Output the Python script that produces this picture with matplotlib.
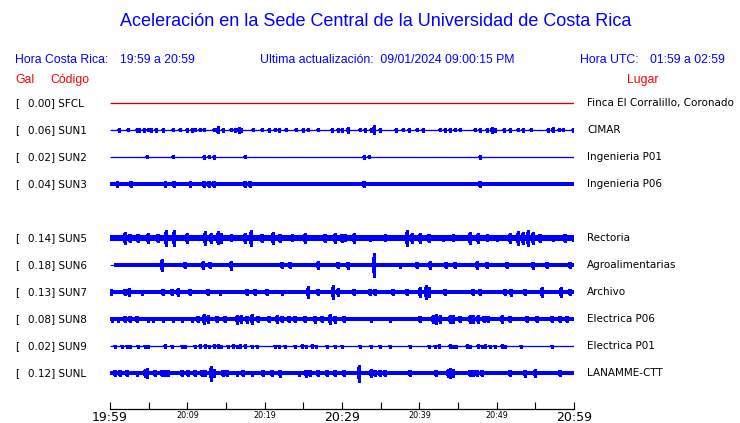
import matplotlib
matplotlib.use("Agg")
import matplotlib.pyplot as plt

W, H = 740, 423
ROW = 27  # pixels between traces

# station table
codes = ["SFCL", "SUN1", "SUN2", "SUN3", "", "SUN5", "SUN6", "SUN7", "SUN8", "SUN9", "SUNL"]
gal = [0.00, 0.06, 0.02, 0.04, None, 0.14, 0.18, 0.13, 0.08, 0.02, 0.12]
places = ["Finca El Corralillo, Coronado", "CIMAR", "Ingenieria P01", "Ingenieria P06", "",
          "Rectoria", "Agroalimentarias", "Archivo", "Electrica P06", "Electrica P01", "LANAMME-CTT"]
# half width of the background noise band (px), 0 = thin line
base = [0, 0, 0, 1.8, None, 2.8, 1.9, 1.9, 1.9, 0, 1.9]
band_start = [0, 0, 0, 0, None, 0, 0.5, 0, 0, 0, 0]

# events: (minutes after 19:59, half amplitude px)
SFCL_EV = []
SUN1_EV = [(1.2, 2), (2.3, 1.5), (3.45, 2), (3.8, 2), (4.4, 2), (4.9, 1.5), (5.3, 2), (5.9, 2),
           (6.9, 2), (8.2, 1.5), (9.05, 1.5), (10.0, 2), (10.6, 2), (11.0, 1.5), (11.6, 1.5),
           (12.1, 1.5), (13.4, 1.5), (13.8, 2), (14.0, 3.5), (14.65, 2), (15.65, 1.5), (16.2, 2),
           (16.7, 3), (17.0, 2), (18.5, 1.5), (19.6, 1.5), (20.5, 2), (21.3, 1.5), (21.8, 2),
           (22.8, 1.5), (24.1, 1.5), (25.0, 2), (25.6, 1.5), (26.9, 1.5), (28.7, 2), (29.5, 2),
           (30.0, 2), (30.8, 3), (32.3, 1.5), (32.97, 2), (33.8, 2), (34.2, 4.5), (34.9, 2),
           (37.0, 2), (37.9, 1.5), (38.6, 2), (39.7, 1.5), (40.5, 2), (42.7, 1.5), (43.3, 2),
           (44.0, 2), (44.6, 1.5), (45.3, 1.5), (47.2, 1.5), (47.8, 2), (48.7, 2), (49.4, 3),
           (49.8, 2), (50.9, 2), (51.7, 2), (52.8, 1.5), (53.4, 2), (54.5, 1.5), (56.7, 2),
           (57.3, 2.5), (58.0, 1.5), (58.6, 1.5), (59.9, 2)]
SUN2_EV = [(4.83, 1.5), (8.19, 1.5), (12.2, 2), (12.8, 1.5), (13.4, 2), (17.4, 1.5),
           (32.8, 2), (33.5, 1.5), (47.8, 2)]
SUN3_EV = [(0.95, 2.8), (2.67, 3.2), (7.1, 2.8), (8.3, 3.2), (10.3, 2.8), (12.2, 3.2),
           (12.85, 3.2), (13.5, 3), (17.4, 3.2), (18.1, 3), (32.8, 3), (47.9, 3.2)]
EMPTY_EV = []
SUN5_EV = [(1.94, 5.7), (2.59, 4), (3.66, 4), (4.96, 5), (6.25, 4), (7.24, 8.3), (8.32, 8),
           (9.91, 5), (12.3, 7), (13.06, 5), (14.0, 6.5), (14.4, 5), (15.7, 3.5), (17.5, 5),
           (18.2, 8), (19.6, 4), (21.1, 6), (22.0, 4), (23.5, 3.5), (25.2, 5), (27.8, 4),
           (29.1, 5), (30.0, 4), (30.4, 3.5), (31.5, 5), (33.6, 3), (35.6, 3.5), (38.4, 8),
           (39.0, 5), (40.1, 5), (41.2, 4), (43.1, 3), (44.4, 3.5), (46.6, 6), (47.6, 5),
           (48.7, 3.5), (50.0, 3), (51.7, 5), (52.8, 7), (53.4, 6), (54.1, 8), (54.7, 6),
           (55.6, 4), (57.3, 3), (58.8, 4), (59.9, 3)]
SUN6_EV = [(6.68, 6.3), (9.7, 3), (12.07, 4), (12.9, 3), (15.7, 4.5), (22.2, 3), (23.3, 3),
           (26.9, 4), (29.5, 3), (30.8, 3.5), (34.2, 11.7), (37.5, 2.5), (39.7, 3), (41.4, 4),
           (43.5, 3), (44.6, 3), (47.4, 4), (48.7, 3), (51.3, 3), (54.7, 3.5), (56.5, 3),
           (59.5, 3)]
SUN7_EV = [(0.13, 3), (1.94, 3), (2.5, 4), (4.1, 2.5), (6.9, 3), (7.97, 3), (8.75, 4),
           (10.3, 3), (12.7, 3), (14.2, 2.5), (17.7, 3), (18.75, 3), (20.3, 3), (22.2, 2.5),
           (25.6, 5.8), (26.9, 3), (28.9, 6.7), (29.5, 4), (31.5, 3), (33.6, 3), (34.3, 3),
           (36.6, 3), (38.4, 3), (40.1, 5), (40.9, 7.3), (41.2, 5), (43.3, 3), (47.0, 3),
           (47.8, 3), (51.1, 3), (51.9, 3.5), (53.7, 3), (55.8, 5), (58.3, 5), (59.5, 3)]
SUN8_EV = [(0.22, 2.5), (1.08, 2.5), (1.94, 3), (2.59, 3), (3.45, 3), (4.96, 2.5), (5.6, 2.5),
           (6.9, 2.5), (8.19, 2.5), (9.27, 2.5), (10.56, 2.5), (11.4, 3), (12.2, 5), (12.7, 4),
           (13.8, 3), (14.9, 3), (16.4, 4.5), (17.0, 4), (17.7, 3.5), (18.3, 5), (19.2, 3),
           (20.5, 3), (21.6, 4), (22.2, 3), (23.1, 3), (23.9, 3), (25.2, 3), (26.5, 3.5),
           (27.4, 3), (28.4, 5), (29.1, 3.5), (30.2, 3), (33.8, 2.5), (36.2, 2.5), (40.1, 3),
           (41.8, 4), (42.2, 5), (42.7, 4), (44.0, 4), (44.4, 4), (45.3, 3), (46.6, 4),
           (47.0, 4), (47.6, 4), (48.3, 3), (48.9, 3), (50.7, 4), (51.7, 3), (53.9, 3),
           (55.2, 3), (57.1, 3), (58.2, 3), (59.1, 3)]
SUN9_EV = [(0.65, 1.5), (1.51, 1.5), (2.16, 1.5), (2.59, 1.5), (3.66, 1.5), (4.53, 1.5),
           (4.96, 1.5), (7.11, 2), (7.97, 1.5), (9.27, 1.5), (9.7, 1.5), (11.0, 1.5), (11.6, 2),
           (12.3, 2), (12.8, 1.5), (13.4, 2), (14.0, 2), (14.4, 1.5), (15.3, 1.5), (15.9, 2),
           (16.4, 1.5), (16.8, 2), (17.5, 2), (18.3, 1.5), (19.0, 1.5), (21.3, 1.5), (21.8, 1.5),
           (22.6, 1.5), (23.9, 1.5), (24.8, 2), (25.4, 1.5), (26.1, 2), (26.7, 1.5), (28.0, 1.5),
           (29.1, 1.5), (30.0, 1.5), (32.3, 1.5), (33.8, 1.5), (34.9, 1.5), (36.2, 1.5),
           (38.8, 1.5), (41.2, 1.5), (42.0, 1.5), (42.5, 2), (44.0, 2), (44.4, 1.5), (44.8, 1.5),
           (46.1, 2), (46.6, 1.5), (47.6, 2), (48.1, 1.5), (48.5, 2), (49.1, 1.5), (49.8, 1.5),
           (50.7, 2), (51.1, 1.5), (53.2, 1.5), (57.1, 1.5)]
SUNL_EV = [(0.65, 3), (1.29, 3), (2.16, 3), (3.45, 2.5), (4.53, 4), (4.74, 5), (5.82, 3),
           (6.68, 3), (7.11, 3), (7.54, 3), (9.27, 3), (10.1, 3), (11.0, 3), (11.85, 3),
           (12.3, 3), (13.06, 7.5), (13.4, 4), (14.65, 3), (15.1, 3), (16.4, 2.5), (17.2, 3),
           (18.3, 2.5), (19.8, 3), (20.9, 3), (22.0, 3.5), (24.4, 2.5), (25.4, 3.5), (25.8, 3),
           (26.9, 3), (28.0, 3), (29.1, 3), (30.2, 3), (32.2, 8.5), (33.8, 4), (34.3, 3),
           (34.9, 3), (35.6, 3), (38.8, 3), (42.2, 3), (43.7, 4), (44.0, 5), (44.4, 4),
           (46.6, 3), (47.0, 3), (47.4, 3), (48.1, 3), (51.7, 3), (53.6, 3.5), (54.9, 4),
           (58.2, 3)]
events = [SFCL_EV, SUN1_EV, SUN2_EV, SUN3_EV, EMPTY_EV, SUN5_EV, SUN6_EV, SUN7_EV,
          SUN8_EV, SUN9_EV, SUNL_EV]

tick_minutes = list(range(0, 61, 5))
tick_labels = ["19:59", "", "20:09", "", "20:19", "", "20:29", "", "20:39", "", "20:49", "", "20:59"]
big_labels = ["19:59", "20:29", "20:59"]

BLUE = "#0000ff"
RED = "#ff0000"
SANS = "Liberation Sans"


def fx(x):
    return x / W


def fy(y):
    return 1 - y / H


fig = plt.figure(figsize=(W / 100, H / 100), dpi=100)

# traces
x0, x1 = 110, 574
top, bot = 103 - ROW / 2, 103 + 10.5 * ROW
ax = fig.add_axes([fx(x0), fy(bot), fx(x1) - fx(x0), (bot - top) / H])
ax.set_xlim(0, 60)
ax.set_ylim(10.5 * ROW, -0.5 * ROW)
ax.axis("off")

for i, code in enumerate(codes):
    if not code:
        continue
    c = i * ROW
    colour = "#d00000" if code == "SFCL" else BLUE
    if base[i] > 0:
        ax.fill_between([band_start[i], 60], c - base[i], c + base[i], color=colour, lw=0)
        if band_start[i] > 0:
            ax.hlines(c, 0, band_start[i], color=colour, lw=0.8)
    else:
        ax.hlines(c, 0, 60, color=colour, lw=0.95)
    if events[i]:
        ts = [e[0] for e in events[i]]
        amps = [e[1] for e in events[i]]
        ax.vlines(ts, [c - a for a in amps], [c + a for a in amps], color=colour,
                  lw=0.8, capstyle="butt", antialiased=False)
        b = max(base[i], 0.5)
        mid = [b + 0.6 * (a - b) for a in amps]
        ax.vlines(ts, [c - m for m in mid], [c + m for m in mid], color=colour,
                  lw=1.7, capstyle="butt", antialiased=False)

    y = fy(103 + i * ROW)
    fig.text(fx(15), y, "[", fontsize=7.5, color="black", va="center", family="DejaVu Sans")
    fig.text(fx(27.5), y, "%.2f] %s" % (gal[i], code), fontsize=7.5, color="black",
             va="center", family="DejaVu Sans")
    fig.text(fx(587), y, places[i], fontsize=7.5, color="black", va="center",
             family="DejaVu Sans")

# time axis
tax = fig.add_axes([fx(x0), fy(409), fx(x1) - fx(x0), 0.02])
tax.set_xlim(0, 60)
tax.set_yticks([])
for s in ["top", "left", "right"]:
    tax.spines[s].set_visible(False)
tax.spines["bottom"].set_linewidth(0.9)
tax.patch.set_alpha(0)
tax.set_xticks(tick_minutes)
tax.set_xticklabels(tick_labels)
tax.tick_params(axis="x", direction="in", length=5.2, width=0.8, pad=1.5)
for lab in tax.get_xticklabels():
    lab.set_fontsize(9 if lab.get_text() in big_labels else 5.8)
    lab.set_family("DejaVu Sans")

# header
fig.text(fx(376), fy(22), "Aceleración en la Sede Central de la Universidad de Costa Rica",
         fontsize=13, color=BLUE, ha="center", va="center", family=SANS)
fig.text(fx(15), fy(60), "Hora Costa Rica:", fontsize=8.8, color=BLUE, va="center", family=SANS)
fig.text(fx(120), fy(60), "19:59 a 20:59", fontsize=8.8, color=BLUE, va="center", family=SANS)
fig.text(fx(260), fy(60), "Ultima actualización:  09/01/2024 09:00:15 PM", fontsize=8.8,
         color=BLUE, va="center", family=SANS)
fig.text(fx(580), fy(60), "Hora UTC:", fontsize=8.8, color=BLUE, va="center", family=SANS)
fig.text(fx(650), fy(60), "01:59 a 02:59", fontsize=8.8, color=BLUE, va="center", family=SANS)
fig.text(fx(15), fy(80), "Gal", fontsize=8.8, color=RED, va="center", family=SANS)
fig.text(fx(50), fy(80), "Código", fontsize=8.8, color=RED, va="center", family=SANS)
fig.text(fx(627), fy(80), "Lugar", fontsize=8.8, color=RED, va="center", family=SANS)

fig.savefig("out.png", dpi=100)
